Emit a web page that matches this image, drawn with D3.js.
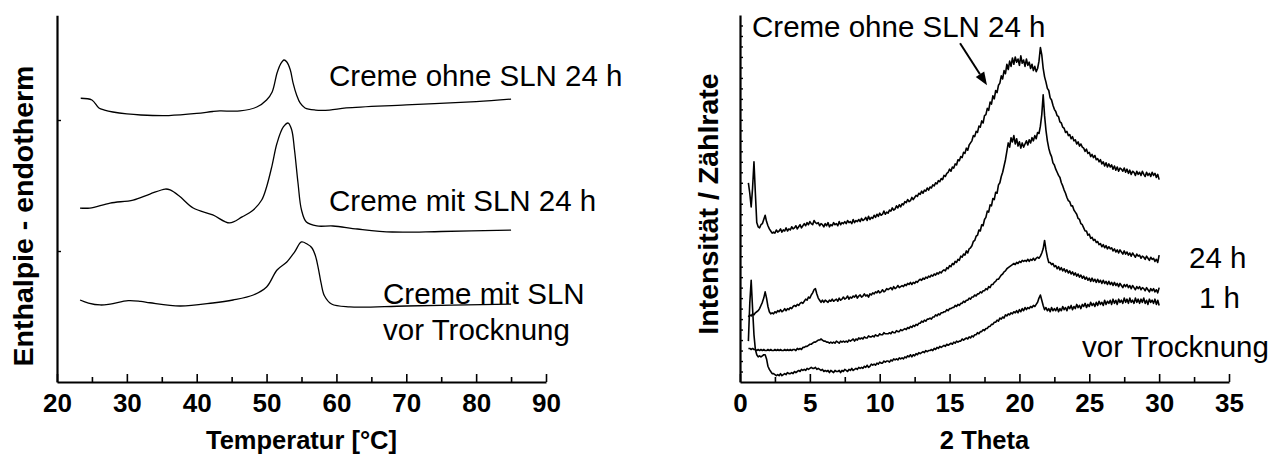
<!DOCTYPE html>
<html>
<head>
<meta charset="utf-8">
<script src="https://cdn.jsdelivr.net/npm/d3@7"></script>
<style>
  html, body { margin: 0; padding: 0; background: #fff; }
  svg { display: block; font-family: "Liberation Sans", Arial, Helvetica, sans-serif; }
</style>
</head>
<body>
<svg id="chart" width="1285" height="455"></svg>
<script>
// ---------- DSC thermograms (left panel), heat flow in arbitrary units ----------
const dscTempOhneSLN24h = [23.4, 25.0, 26.0, 26.8, 28, 30, 32, 36, 40, 42.3, 43.3, 46.2, 48.6, 50, 50.8, 51.5, 52, 52.5, 52.9, 53.4, 53.8, 54.3, 54.8, 55.5, 57, 59, 61.4, 70, 80, 85];
const dscOhneSLN24h     = [2.166, 2.153, 2.092, 2.076, 2.061, 2.046, 2.038, 2.034, 2.050, 2.065, 2.069, 2.069, 2.099, 2.153, 2.214, 2.359, 2.427, 2.458, 2.443, 2.382, 2.282, 2.191, 2.130, 2.092, 2.076, 2.076, 2.092, 2.115, 2.141, 2.160];

const dscTempMitSLN24h = [23.3, 24.7, 27.6, 30.9, 33.3, 35.5, 36.2, 37.5, 39.5, 42.3, 44.7, 46.5, 48.1, 49.3, 50, 50.8, 51.5, 52.4, 53.1, 53.6, 54.0, 54.5, 55, 55.7, 57.2, 59.5, 63, 68, 75, 85];
const dscMitSLN24h     = [1.328, 1.328, 1.366, 1.389, 1.435, 1.473, 1.466, 1.420, 1.328, 1.275, 1.214, 1.260, 1.313, 1.389, 1.489, 1.656, 1.824, 1.947, 1.977, 1.924, 1.771, 1.519, 1.313, 1.221, 1.191, 1.191, 1.168, 1.145, 1.149, 1.160];

const dscTempVorTrocknung = [23.3, 24.5, 26.2, 27.6, 30.2, 32, 33.3, 37.6, 42.3, 45.2, 48.1, 50, 51.5, 52.9, 54, 55, 55.8, 56.5, 57.0, 57.4, 57.8, 58.3, 59.3, 61.9, 70, 85];
const dscVorTrocknung     = [0.626, 0.603, 0.588, 0.595, 0.621, 0.615, 0.605, 0.580, 0.603, 0.626, 0.664, 0.725, 0.855, 0.916, 0.992, 1.069, 1.053, 1.023, 0.962, 0.870, 0.756, 0.656, 0.595, 0.573, 0.580, 0.595];

const dscTicks = [20, 30, 40, 50, 60, 70, 80, 90];

// ---------- X-ray diffractograms (right panel), 2 theta scan 0.6 .. 30.0 in 0.1 steps ----------
const thetaStart = 0.6, thetaStep = 0.1;

const xrdOhneSLN24h = [
  19.0, 18.0, 16.7, 18.5, 21.0, 18.0, 15.2, 14.8, 14.7, 15.0,
  15.1, 15.5, 15.9, 15.3, 14.9, 14.6, 14.4, 14.2, 14.3, 14.2,
  14.5, 14.3, 14.4, 14.6, 14.3, 14.5, 14.4, 14.7, 14.4, 14.6,
  14.5, 14.8, 14.6, 14.7, 14.9, 14.6, 14.8, 15.0, 14.7, 14.9,
  15.1, 14.9, 15.2, 15.0, 15.3, 15.1, 15.0, 15.4, 15.2, 15.1,
  15.2, 14.9, 15.1, 15.0, 14.8, 15.1, 14.9, 15.2, 14.8, 15.0,
  14.9, 15.2, 15.0, 15.1, 14.9, 15.3, 15.0, 15.2, 15.1, 15.3,
  15.1, 15.4, 15.2, 15.3, 15.1, 15.5, 15.2, 15.4, 15.3, 15.5,
  15.3, 15.6, 15.4, 15.5, 15.7, 15.4, 15.8, 15.5, 15.7, 15.6,
  15.9, 15.7, 16.0, 15.8, 16.1, 15.9, 16.0, 16.3, 16.0, 16.2,
  16.1, 16.4, 16.3, 16.6, 16.4, 16.5, 16.8, 16.6, 16.9, 16.7,
  17.0, 16.9, 17.2, 17.1, 17.4, 17.2, 17.3, 17.6, 17.4, 17.6,
  17.8, 17.7, 18.0, 17.9, 18.2, 18.0, 18.3, 18.2, 18.5, 18.3,
  18.6, 18.5, 18.8, 18.7, 19.0, 18.9, 19.2, 19.1, 19.4, 19.3,
  19.7, 19.6, 19.9, 20.0, 20.3, 20.1, 20.5, 20.4, 20.8, 20.7,
  21.2, 21.1, 21.5, 21.4, 21.9, 21.8, 22.3, 22.1, 22.6, 22.8,
  23.0, 23.5, 23.4, 23.9, 23.8, 24.4, 24.3, 24.9, 24.7, 25.4,
  25.5, 26.1, 25.9, 26.7, 26.5, 27.3, 27.0, 27.8, 27.6, 28.3,
  28.5, 29.2, 28.9, 29.7, 29.4, 30.3, 29.8, 30.6, 30.1, 30.9,
  30.3, 31.0, 30.5, 30.8, 30.2, 31.1, 30.4, 30.7, 30.1, 30.8,
  30.2, 30.5, 29.9, 30.3, 29.7, 30.1, 29.6, 29.9, 30.6, 31.9,
  31.2, 29.9, 29.1, 28.6, 28.0, 27.8, 27.1, 26.9, 26.4, 26.0,
  25.8, 25.4, 25.3, 24.8, 24.7, 24.3, 24.2, 23.8, 23.9, 23.5,
  23.6, 23.2, 23.4, 23.0, 23.1, 22.7, 22.9, 22.5, 22.7, 22.4,
  22.3, 22.0, 22.2, 21.8, 21.9, 21.5, 21.7, 21.4, 21.6, 21.2,
  21.3, 21.0, 21.2, 20.8, 21.0, 20.6, 20.9, 20.5, 20.8, 20.5,
  20.7, 20.3, 20.6, 20.2, 20.5, 20.1, 20.4, 20.3, 20.1, 20.4,
  20.0, 20.3, 19.9, 20.2, 19.8, 20.1, 20.0, 19.7, 20.1, 19.8,
  20.0, 19.7, 20.1, 19.8, 19.6, 20.0, 19.7, 19.9, 19.6, 20.0,
  19.7, 19.9, 19.5, 19.8, 19.3
];

const xrdMitSLN24h = [
  6.2, 6.4, 6.3, 6.5, 6.4, 6.6, 6.7, 6.8, 7.0, 7.3,
  7.6, 8.0, 8.6, 8.0, 7.2, 6.7, 6.5, 6.6, 6.5, 6.7,
  6.6, 6.8, 6.7, 6.9, 6.7, 6.8, 7.0, 6.8, 7.0, 6.9,
  7.1, 7.0, 7.2, 7.3, 7.2, 7.4, 7.3, 7.5, 7.6, 7.5,
  7.7, 7.9, 7.8, 8.1, 8.0, 8.3, 8.5, 8.8, 8.9, 8.4,
  8.0, 7.8, 7.6, 7.8, 7.6, 7.8, 7.7, 7.6, 7.8, 7.7,
  7.9, 7.7, 7.8, 7.9, 7.7, 8.0, 7.8, 7.9, 8.1, 7.9,
  8.0, 8.2, 7.9, 8.1, 8.0, 8.2, 8.1, 8.3, 8.0, 8.2,
  8.3, 8.1, 8.2, 8.4, 8.2, 8.3, 8.1, 8.4, 8.3, 8.5,
  8.4, 8.6, 8.5, 8.7, 8.5, 8.6, 8.8, 8.6, 8.7, 8.9,
  8.8, 8.9, 9.0, 8.8, 9.1, 8.9, 9.0, 9.2, 9.0, 9.1,
  9.2, 9.1, 9.3, 9.2, 9.4, 9.3, 9.5, 9.3, 9.5, 9.4,
  9.6, 9.5, 9.7, 9.8, 9.7, 9.9, 9.8, 10.0, 9.9, 10.1,
  10.0, 10.2, 10.1, 10.3, 10.2, 10.4, 10.3, 10.5, 10.4, 10.6,
  10.7, 10.6, 10.9, 10.8, 11.1, 11.0, 11.3, 11.2, 11.5, 11.4,
  11.7, 11.6, 12.0, 11.9, 12.2, 12.1, 12.5, 12.3, 12.7, 12.8,
  13.0, 13.4, 13.5, 13.9, 14.0, 14.5, 14.4, 15.0, 14.9, 15.5,
  15.7, 16.3, 16.2, 16.9, 16.8, 17.5, 17.4, 18.1, 18.0, 18.8,
  19.0, 19.6, 20.0, 20.6, 21.2, 22.0, 22.8, 22.4, 23.3, 22.9,
  23.5, 22.7, 23.2, 22.5, 22.9, 22.3, 22.8, 22.4, 22.7, 23.0,
  22.6, 23.1, 22.8, 23.3, 23.0, 23.5, 23.2, 23.8, 23.7, 24.4,
  25.5, 27.4, 25.4, 24.0, 23.0, 22.3, 21.8, 21.5, 20.9, 20.7,
  20.3, 20.0, 19.7, 19.5, 19.0, 18.7, 18.3, 18.0, 17.6, 17.3,
  17.2, 16.8, 16.8, 16.4, 16.2, 16.0, 15.6, 15.5, 15.1, 15.0,
  14.7, 14.4, 14.4, 14.0, 14.1, 13.7, 13.8, 13.5, 13.6, 13.3,
  13.4, 13.1, 13.2, 12.9, 13.1, 12.8, 13.0, 12.7, 12.9, 12.7,
  12.8, 12.5, 12.7, 12.4, 12.6, 12.3, 12.6, 12.4, 12.2, 12.5,
  12.2, 12.4, 12.1, 12.3, 12.0, 12.3, 12.1, 11.9, 12.2, 12.0,
  12.1, 11.8, 12.0, 11.9, 11.7, 12.0, 11.8, 11.6, 11.9, 11.7,
  11.8, 11.5, 11.7, 11.4, 12.1
];

const xrdMitSLN1h = [
  3.2, 3.2, 3.1, 3.2, 3.1, 3.1, 3.0, 3.1, 3.0, 3.1,
  3.0, 3.1, 3.0, 3.0, 3.1, 3.0, 3.1, 3.0, 3.0, 3.1,
  3.0, 3.1, 3.0, 3.1, 3.0, 3.0, 3.1, 3.0, 3.1, 3.0,
  3.1, 3.0, 3.1, 3.1, 3.0, 3.2, 3.1, 3.2, 3.1, 3.3,
  3.3, 3.4, 3.4, 3.5, 3.6, 3.6, 3.7, 3.8, 3.8, 3.9,
  4.0, 4.0, 4.1, 4.0, 3.9, 3.9, 3.8, 3.8, 3.7, 3.8,
  3.7, 3.8, 3.7, 3.9, 3.8, 3.7, 3.9, 3.8, 3.9, 3.8,
  3.9, 3.8, 4.0, 3.9, 4.0, 4.1, 3.9, 4.1, 4.0, 4.2,
  4.1, 4.2, 4.1, 4.3, 4.2, 4.2, 4.4, 4.3, 4.3, 4.4,
  4.3, 4.5, 4.4, 4.4, 4.6, 4.5, 4.5, 4.7, 4.6, 4.6,
  4.6, 4.7, 4.6, 4.8, 4.7, 4.7, 4.9, 4.8, 4.8, 5.0,
  4.9, 5.0, 5.1, 5.0, 5.2, 5.1, 5.3, 5.2, 5.4, 5.3,
  5.5, 5.4, 5.6, 5.6, 5.8, 5.7, 5.9, 5.8, 6.0, 6.0,
  6.1, 6.0, 6.2, 6.2, 6.4, 6.3, 6.5, 6.4, 6.6, 6.6,
  6.7, 6.7, 6.9, 6.8, 7.0, 7.0, 7.1, 7.1, 7.3, 7.2,
  7.4, 7.3, 7.5, 7.5, 7.7, 7.6, 7.8, 7.8, 8.0, 7.9,
  8.1, 8.1, 8.3, 8.2, 8.4, 8.4, 8.6, 8.5, 8.7, 8.7,
  8.9, 8.8, 9.1, 9.0, 9.3, 9.3, 9.5, 9.6, 9.8, 9.8,
  10.0, 10.2, 10.3, 10.5, 10.6, 10.8, 10.9, 11.0, 11.1, 11.2,
  11.3, 11.2, 11.4, 11.3, 11.5, 11.4, 11.6, 11.5, 11.6, 11.5,
  11.7, 11.5, 11.7, 11.6, 11.8, 11.6, 11.8, 11.9, 11.8, 12.0,
  12.3, 12.7, 13.5, 12.6, 11.9, 11.4, 11.4, 11.2, 11.3, 11.0,
  11.1, 10.8, 11.0, 10.7, 10.9, 10.6, 10.8, 10.5, 10.7, 10.4,
  10.6, 10.3, 10.5, 10.2, 10.4, 10.1, 10.3, 10.0, 10.2, 9.9,
  10.1, 9.8, 10.0, 9.7, 9.9, 9.6, 9.9, 9.6, 9.8, 9.5,
  9.8, 9.5, 9.7, 9.4, 9.7, 9.4, 9.6, 9.3, 9.6, 9.3,
  9.5, 9.2, 9.5, 9.2, 9.4, 9.1, 9.4, 9.2, 9.0, 9.3,
  9.1, 9.3, 9.0, 9.2, 8.9, 9.2, 9.0, 8.8, 9.1, 8.9,
  9.1, 8.8, 9.0, 8.9, 8.7, 9.0, 8.8, 8.6, 8.9, 8.7,
  8.9, 8.6, 8.8, 8.5, 9.0
];

const xrdVorTrocknung = [
  3.9, 7.5, 9.7, 7.0, 4.5, 3.1, 2.6, 2.4, 2.5, 2.4,
  2.5, 2.6, 2.6, 2.2, 1.5, 1.2, 1.0, 0.8, 0.8, 0.7,
  0.6, 0.7, 0.6, 0.8, 0.6, 0.7, 0.8, 0.7, 0.9, 0.8,
  0.8, 0.9, 0.8, 1.0, 0.9, 1.0, 1.1, 1.0, 1.2, 1.1,
  1.2, 1.1, 1.3, 1.2, 1.3, 1.4, 1.3, 1.3, 1.4, 1.2,
  1.3, 1.2, 1.1, 1.2, 1.0, 1.1, 1.0, 1.1, 0.9, 1.1,
  1.0, 0.9, 1.1, 1.0, 1.0, 1.1, 0.9, 1.1, 1.0, 1.2,
  1.1, 1.0, 1.2, 1.1, 1.3, 1.1, 1.2, 1.3, 1.2, 1.4,
  1.3, 1.4, 1.3, 1.5, 1.4, 1.6, 1.4, 1.5, 1.7, 1.6,
  1.7, 1.6, 1.8, 1.7, 1.9, 1.8, 1.8, 2.0, 1.9, 2.0,
  2.0, 1.9, 2.1, 2.0, 2.2, 2.1, 2.2, 2.1, 2.3, 2.2,
  2.3, 2.2, 2.4, 2.3, 2.5, 2.4, 2.6, 2.4, 2.6, 2.5,
  2.7, 2.6, 2.8, 2.7, 2.8, 2.9, 2.8, 3.0, 2.9, 3.0,
  3.0, 3.1, 3.0, 3.2, 3.1, 3.3, 3.2, 3.4, 3.3, 3.4,
  3.5, 3.4, 3.6, 3.5, 3.6, 3.7, 3.6, 3.8, 3.7, 3.9,
  3.8, 3.9, 3.9, 4.1, 4.0, 4.1, 4.2, 4.1, 4.3, 4.2,
  4.4, 4.3, 4.5, 4.5, 4.7, 4.6, 4.8, 4.8, 5.0, 4.9,
  5.1, 5.1, 5.3, 5.3, 5.5, 5.5, 5.7, 5.7, 5.9, 5.8,
  6.1, 6.0, 6.2, 6.1, 6.4, 6.3, 6.5, 6.4, 6.6, 6.5,
  6.7, 6.6, 6.8, 6.6, 6.9, 6.7, 7.0, 6.8, 7.1, 6.9,
  7.1, 7.0, 7.2, 7.1, 7.3, 7.2, 7.4, 7.6, 8.0, 8.3,
  7.8, 7.3, 6.9, 7.1, 6.8, 7.0, 6.7, 7.1, 6.8, 7.0,
  6.8, 7.1, 6.7, 7.0, 6.8, 7.2, 6.9, 7.1, 6.8, 7.2,
  7.0, 7.3, 6.9, 7.2, 7.0, 7.4, 7.1, 7.3, 7.0, 7.4,
  7.2, 7.5, 7.1, 7.4, 7.2, 7.6, 7.3, 7.5, 7.2, 7.6,
  7.3, 7.7, 7.4, 7.6, 7.3, 7.8, 7.4, 7.7, 7.5, 7.8,
  7.4, 7.9, 7.5, 7.8, 7.4, 7.9, 7.6, 7.8, 7.5, 8.0,
  7.6, 7.9, 7.5, 8.0, 7.6, 7.8, 7.5, 8.0, 7.6, 7.9,
  7.5, 7.9, 7.6, 8.0, 7.5, 7.8, 7.4, 7.9, 7.6, 7.8,
  7.5, 7.9, 7.4, 7.8, 7.3
];

const xrdTicks = [0, 5, 10, 15, 20, 25, 30, 35];

// ---------- scales ----------
const svg = d3.select("#chart");
const FONT = "\"Liberation Sans\", Arial, Helvetica, sans-serif";

const xL = d3.scaleLinear().domain([20, 90]).range([57, 546]);
const yL = d3.scaleLinear().domain([0, 2.8]).range([382, 15.2]);
const xR = d3.scaleLinear().domain([0, 35]).range([740, 1229]);
const yR = d3.scaleLinear().domain([0, 35]).range([382, 15]);

function styleAxis(g, fontSize) {
  g.attr("font-family", FONT).attr("font-size", fontSize).attr("font-weight", "bold");
  g.select(".domain").attr("stroke", "#000").attr("stroke-width", 2.2);
  g.selectAll(".tick line").attr("stroke", "#000").attr("stroke-width", 1.6);
  g.selectAll(".tick text").attr("fill", "#000");
}

function drawPanel(x, y, cfg) {
  // minor x ticks
  const minor = svg.append("g").attr("transform", `translate(0,${y.range()[0]})`)
    .call(d3.axisBottom(x).tickValues(cfg.minorX).tickSizeInner(-5).tickSizeOuter(0).tickFormat(""));
  styleAxis(minor, 26);
  minor.select(".domain").remove();

  // major x ticks with labels
  const gx = svg.append("g").attr("transform", `translate(0,${y.range()[0]})`)
    .call(d3.axisBottom(x).tickValues(cfg.majorX).tickSizeInner(-8).tickSizeOuter(0).tickPadding(12).tickFormat(d3.format("d")));
  styleAxis(gx, 26);

  // y axis with inward ticks, no labels
  const gy = svg.append("g").attr("transform", `translate(${x.range()[0]},0)`)
    .call(d3.axisLeft(y).tickValues(cfg.yTicks).tickSizeInner(-cfg.yTickLen).tickSizeOuter(0).tickFormat(""));
  styleAxis(gy, 26);
  gy.selectAll(".tick line").attr("stroke-width", cfg.yTickWidth);

  // axis titles
  svg.append("text")
    .attr("x", (x.range()[0] + x.range()[1]) / 2).attr("y", 449)
    .attr("text-anchor", "middle").attr("font-family", FONT)
    .attr("font-size", 25.5).attr("font-weight", "bold").text(cfg.xTitle);

  svg.append("text")
    .attr("transform", `translate(${cfg.yTitleX},${cfg.yTitleY}) rotate(-90)`)
    .attr("text-anchor", "middle").attr("font-family", FONT)
    .attr("font-size", 28.5).attr("font-weight", "bold").text(cfg.yTitle);
}

drawPanel(xL, yL, {
  majorX: dscTicks,
  minorX: [25, 35, 45, 55, 65, 75, 85],
  yTicks: [1, 2],
  yTickLen: 4, yTickWidth: 1.4,
  xTitle: "Temperatur [°C]",
  yTitle: "Enthalpie - endotherm",
  yTitleX: 33, yTitleY: 216
});

drawPanel(xR, yR, {
  majorX: xrdTicks,
  minorX: [2.5, 7.5, 12.5, 17.5, 22.5, 27.5, 32.5],
  yTicks: d3.range(1, 35),
  yTickLen: 3, yTickWidth: 1.4,
  xTitle: "2 Theta",
  yTitle: "Intensität / Zählrate",
  yTitleX: 718, yTitleY: 204
});

// ---------- DSC curves ----------
const dscLine = d3.line()
  .x(d => xL(d[0])).y(d => yL(d[1]))
  .curve(d3.curveCatmullRom.alpha(0.5));

[
  [dscTempOhneSLN24h, dscOhneSLN24h],
  [dscTempMitSLN24h, dscMitSLN24h],
  [dscTempVorTrocknung, dscVorTrocknung]
].forEach(([t, v]) => {
  svg.append("path")
    .attr("d", dscLine(d3.zip(t, v)))
    .attr("fill", "none").attr("stroke", "#000").attr("stroke-width", 1.3)
    .attr("stroke-linejoin", "round");
});

// ---------- XRD curves (noisy scans drawn a little heavier) ----------
const xrdLine = d3.line().x(d => xR(d[0])).y(d => yR(d[1]));
[xrdOhneSLN24h, xrdMitSLN24h, xrdMitSLN1h, xrdVorTrocknung].forEach(values => {
  const pts = values.map((v, i) => [thetaStart + i * thetaStep, v]);
  svg.append("path")
    .attr("d", xrdLine(pts))
    .attr("fill", "none").attr("stroke", "#000").attr("stroke-width", 1.6)
    .attr("stroke-linejoin", "round");
});

// ---------- curve labels ----------
const labels = [
  { x: 329, y: 86, t: "Creme ohne SLN 24 h" },
  { x: 329, y: 211, t: "Creme mit SLN 24 h" },
  { x: 383, y: 304, t: "Creme mit SLN" },
  { x: 383, y: 340, t: "vor Trocknung" },
  { x: 752, y: 37, t: "Creme ohne SLN 24 h" },
  { x: 1189, y: 268, t: "24 h" },
  { x: 1199, y: 308, t: "1 h" },
  { x: 1082, y: 357, t: "vor Trocknung" }
];
svg.selectAll("text.lbl").data(labels).enter().append("text")
  .attr("class", "lbl")
  .attr("x", d => d.x).attr("y", d => d.y)
  .attr("font-family", FONT).attr("font-size", 29.5)
  .attr("fill", "#000").text(d => d.t);

// ---------- arrow pointing at the "ohne SLN" diffractogram ----------
const tail = [xR(15.75), yR(32.3)];
const head = [xR(17.68), yR(28.3)];
const dx = head[0] - tail[0], dy = head[1] - tail[1];
const len = Math.hypot(dx, dy), ux = dx / len, uy = dy / len;
const hl = 13, hw = 5;
const base = [head[0] - ux * hl, head[1] - uy * hl];
svg.append("line")
  .attr("x1", tail[0]).attr("y1", tail[1]).attr("x2", base[0]).attr("y2", base[1])
  .attr("stroke", "#000").attr("stroke-width", 2);
svg.append("path")
  .attr("d", `M${head[0]},${head[1]}L${base[0] - uy * hw},${base[1] + ux * hw}L${base[0] + uy * hw},${base[1] - ux * hw}Z`)
  .attr("fill", "#000");
</script>
</body>
</html>
